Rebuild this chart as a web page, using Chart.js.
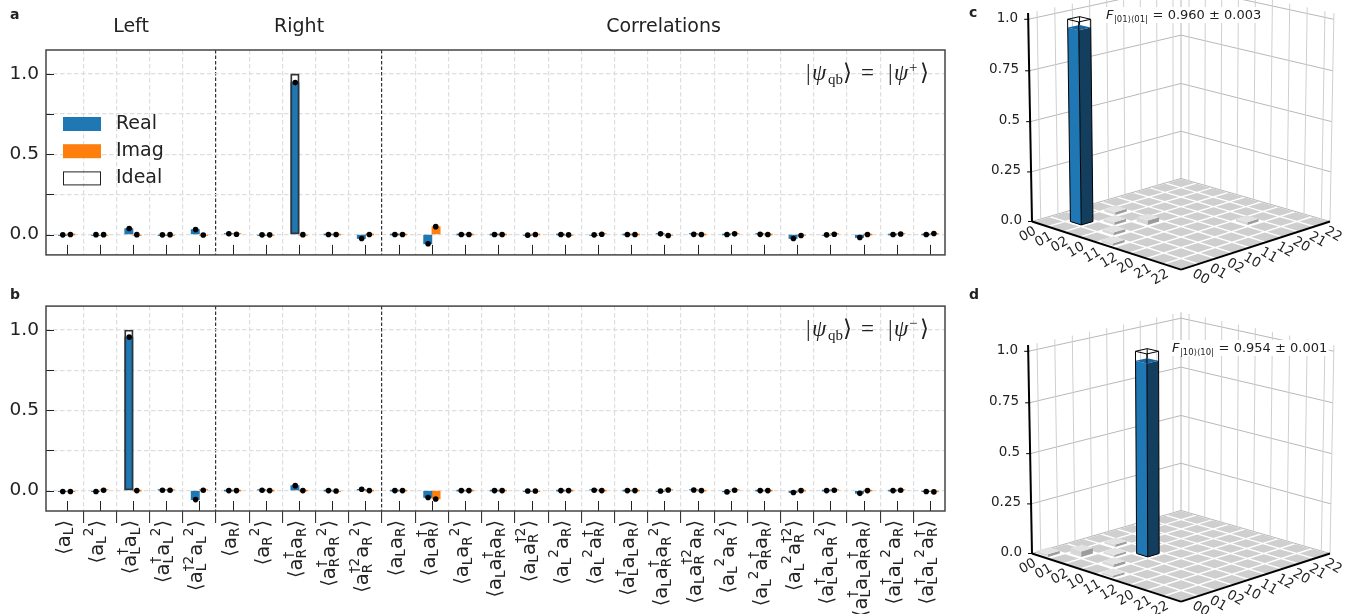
<!DOCTYPE html>
<html>
<head>
<meta charset="utf-8">
<title>Two-qubit moments and fidelity</title>
<script src="https://cdn.jsdelivr.net/npm/chart.js@4"></script>
<style>
    body { margin: 0; background: #fff; width: 1348px; height: 614px; overflow: hidden; position: relative; }
    canvas { position: absolute; }
</style>
</head>
<body>
<canvas id="panelA" width="960" height="273" style="left:0;top:0"></canvas>
<canvas id="panelB" width="960" height="326" style="left:0;top:288px"></canvas>
<canvas id="panelC" width="388" height="292" style="left:960px;top:0"></canvas>
<canvas id="panelD" width="388" height="329" style="left:960px;top:285px"></canvas>
<script>
// labels use a small syntax: base^sup_sub stacked, a lone ^2 follows the previous token
const categories = [
    'a_L', 'a_L ^2', 'a^†_L a_L', 'a^†_L a_L ^2', 'a^†2_L a_L ^2',
    'a_R', 'a_R ^2', 'a^†_R a_R', 'a^†_R a_R ^2', 'a^†2_R a_R ^2',
    'a_L a_R', 'a_L a^†_R', 'a_L a_R ^2', 'a_L a^†_R a_R', 'a_L a^†2_R',
    'a_L ^2 a_R', 'a_L ^2 a^†_R', 'a^†_L a_L a_R', 'a_L a^†_R a_R ^2', 'a_L a^†2_R a_R',
    'a_L ^2 a_R ^2', 'a_L ^2 a^†_R a_R', 'a_L ^2 a^†2_R', 'a^†_L a_L a_R ^2',
    'a^†_L a_L a^†_R a_R', 'a^†_L a_L ^2 a_R', 'a^†_L a_L ^2 a^†_R'
];
const groupNames = ['Left', 'Right', 'Correlations'];
const groupEdges = [-0.62, 4.5, 9.5, 26.45];
const seriesNames = ['Real', 'Imag', 'Ideal'];
const yTicks = [0, 0.25, 0.5, 0.75, 1];
const yTickLabels = ['0.0', '', '0.5', '', '1.0'];

const realA = [-0.002, -0.001, 0.037, -0.002, 0.031, 0.005, -0.002, 0.946, 0, -0.025, 0, -0.058, 0, 0, -0.004, 0, -0.002, 0, 0.004, 0.001, 0, 0.001, -0.025, -0.002, -0.019, 0, 0];
const imagA = [0, -0.001, -0.001, -0.001, -0.003, 0.002, -0.002, -0.001, 0, 0, 0, 0.049, 0, 0, 0, -0.002, 0.002, 0, -0.006, 0, 0.004, 0, -0.006, 0.002, 0, 0.003, 0.006];
const idealA = [0, 0, 0, 0, 0, 0, 0, 1, 0, 0, 0, 0, 0, 0, 0, 0, 0, 0, 0, 0, 0, 0, 0, 0, 0, 0, 0];
const realB = [-0.006, -0.006, 0.956, 0.002, -0.056, 0, 0.002, 0.031, 0, 0.008, 0, -0.043, 0, 0, -0.002, 0, 0.002, 0, -0.002, 0.004, -0.008, 0, -0.012, 0, -0.017, 0, -0.006];
const imagB = [-0.006, 0.002, 0, 0.002, 0.002, 0, 0, 0, -0.002, 0, 0, -0.052, 0, 0, -0.002, 0, 0, 0, 0.004, 0, 0.002, 0, 0, 0.002, 0, 0.002, -0.008];
const idealB = [0, 0, 1, 0, 0, 0, 0, 0, 0, 0, 0, 0, 0, 0, 0, 0, 0, 0, 0, 0, 0, 0, 0, 0, 0, 0, 0];

const basisLabels = ['00', '01', '02', '10', '11', '12', '20', '21', '22'];
const zTicks = [0, 0.25, 0.5, 0.75, 1];
const zTickLabels = ['0.0', '0.25', '0.5', '0.75', '1.0'];
const rhoC = [
    [0, 0, 0, 0, 0, 0, 0, 0, 0],
    [0, 0.96, 0, 0.014, 0, 0, 0, 0, 0],
    [0, 0, 0.014, 0, 0, 0, 0, 0, 0],
    [0, 0.014, 0, 0.022, 0, 0, 0, 0, 0],
    [0.012, 0, 0, 0, 0, 0, 0, 0, 0],
    [0, 0, 0, 0, 0, 0, 0, 0, 0],
    [0, 0, 0, 0, 0, 0, 0.014, 0, 0],
    [0, 0, 0, 0, 0, 0, 0, 0, 0],
    [0, 0, 0, 0, 0, 0, 0, 0, 0]
];
const rhoD = [
    [0.014, 0, 0, 0, 0, 0, 0, 0, 0],
    [0, 0.028, 0, 0.012, 0, 0, 0, 0, 0],
    [0, 0, 0.01, 0, 0, 0, 0, 0, 0],
    [0, 0.014, 0, 0.954, 0, 0, 0, 0, 0],
    [0.01, 0, 0, 0, 0, 0, 0, 0, 0],
    [0, 0, 0, 0, 0, 0, 0, 0, 0],
    [0, 0, 0, 0, 0, 0, 0, 0, 0],
    [0, 0, 0, 0, 0, 0, 0, 0, 0],
    [0, 0, 0, 0, 0, 0, 0, 0, 0]
];

const SANS = '"DejaVu Sans"';
const BLUE = '#1f77b4';
const ORANGE = '#ff7f0e';

Chart.defaults.animation = false;
Chart.defaults.font.family = SANS;

function setFont(ctx, size, style) {
    ctx.font = (style ? style + ' ' : '') + size + 'px ' + SANS;
}

// turns one label string into positioned text runs
function layoutLabel(ctx, label, size) {
    const small = size * 0.7;
    const runs = [];
    let x = 0;
    const put = (text, s, dy, advance) => {
        setFont(ctx, s);
        runs.push({ text, s, x, dy });
        const w = ctx.measureText(text).width;
        if (advance) x += w;
        return w;
    };
    put('⟨', size, 0, true);
    label.split(' ').forEach(token => {
        const m = token.match(/^(a?)(?:\^([^_]+))?(?:_(.+))?$/);
        if (m[1]) put(m[1], size, 0, true);
        const sup = m[2] ? put(m[2], small, -size * 0.48, false) : 0;
        const sub = m[3] ? put(m[3], small, size * 0.18, false) : 0;
        x += Math.max(sup, sub);
    });
    put('⟩', size, 0, true);
    return { runs, width: x };
}

function drawRuns(ctx, runs) {
    runs.forEach(r => {
        setFont(ctx, r.s, r.style);
        if (r.family) ctx.font = (r.style ? r.style + ' ' : '') + r.s + 'px ' + r.family;
        ctx.fillText(r.text, r.x, r.dy);
    });
}

const barPanelPlugin = {
    id: 'barPanel',
    afterDatasetsDraw(chart, args, opts) {
        const ctx = chart.ctx;
        const { left, right, top, bottom } = chart.chartArea;
        const x = chart.scales.x;
        const y = chart.scales.y;
        ctx.save();
        ctx.strokeStyle = '#222';
        ctx.lineWidth = 1;
        ctx.beginPath();
        categories.forEach((c, i) => {
            const px = Math.round(x.getPixelForValue(i)) + 0.5;
            ctx.moveTo(px, bottom);
            ctx.lineTo(px, bottom - 10);
        });
        yTicks.forEach(v => {
            const py = Math.round(y.getPixelForValue(v)) + 0.5;
            ctx.moveTo(left, py);
            ctx.lineTo(left + 8, py);
        });
        ctx.stroke();
        ctx.strokeStyle = '#444';
        ctx.lineWidth = 1.5;
        ctx.strokeRect(left, top, right - left, bottom - top);

        ctx.fillStyle = '#222';
        ctx.textBaseline = 'middle';
        setFont(ctx, 14, 'bold');
        ctx.textAlign = 'left';
        ctx.fillText(opts.letter, 10, opts.letterY);
        ctx.textBaseline = 'alphabetic';

        if (opts.showGroups) {
            setFont(ctx, 19);
            ctx.textAlign = 'center';
            ctx.textBaseline = 'middle';
            groupNames.forEach((name, i) => {
                const mid = (groupEdges[i] + groupEdges[i + 1]) / 2;
                ctx.fillText(name, x.getPixelForValue(mid), 27);
            });
            // legend
            ctx.textAlign = 'left';
            [BLUE, ORANGE, null].forEach((color, i) => {
                const cy = 124 + i * 27.2;
                if (color) {
                    ctx.fillStyle = color;
                    ctx.fillRect(63, cy - 7, 38, 14);
                } else {
                    ctx.strokeStyle = '#222';
                    ctx.lineWidth = 1;
                    ctx.strokeRect(63.5, cy - 6.5, 37, 13);
                }
                ctx.fillStyle = '#222';
                ctx.fillText(seriesNames[i], 116, cy);
            });
            ctx.textBaseline = 'alphabetic';
        }

        // state label in the upper right corner
        const serif = '"Liberation Serif"';
        ctx.save();
        ctx.textAlign = 'left';
        ctx.fillStyle = '#222';
        ctx.translate(806, y.getPixelForValue(1) + 6);
        const parts = [['|', 23, 0, '', 0], ['ψ', 23, 0, 'italic', 6], ['qb', 15, 4, '', 22], ['⟩', 23, 0, '', 37],
            ['=', 23, 0, '', 55], ['|', 23, 0, '', 82], ['ψ', 23, 0, 'italic', 88], [opts.sign, 15, -8, '', 103], ['⟩', 23, 0, '', 114]];
        drawRuns(ctx, parts.map(p => ({ text: p[0], s: p[1], dy: p[2], style: p[3], x: p[4], family: serif })));
        ctx.restore();

        if (opts.showLabels) {
            ctx.fillStyle = '#222';
            categories.forEach((label, i) => {
                const layout = layoutLabel(ctx, label, 19.5);
                ctx.save();
                ctx.translate(x.getPixelForValue(i) + 3, bottom + 9);
                ctx.rotate(-Math.PI / 2);
                ctx.translate(-layout.width, 0);
                drawRuns(ctx, layout.runs);
                ctx.restore();
            });
        }
        ctx.restore();
    }
};

function makeBarChart(id, real, imag, ideal, cfg) {
    const toPoints = (values, shift) => values.map((v, i) => ({ x: i + shift, y: v }));
    return new Chart(document.getElementById(id), {
        type: 'bar',
        data: {
            datasets: [
                {
                    type: 'scatter',
                    label: 'measured',
                    data: toPoints(real, -0.115).concat(toPoints(imag, 0.115)),
                    backgroundColor: '#000',
                    borderWidth: 0,
                    pointRadius: 2.8,
                    order: 0
                },
                {
                    label: seriesNames[2],
                    data: toPoints(ideal, -0.125).filter(p => p.y > 0),
                    backgroundColor: 'rgba(0,0,0,0)',
                    borderColor: '#333',
                    borderWidth: 1.2,
                    borderSkipped: false,
                    barThickness: 8.6,
                    grouped: false,
                    order: 1
                },
                {
                    label: seriesNames[0],
                    data: toPoints(real, -0.125),
                    backgroundColor: BLUE,
                    barThickness: 8.3,
                    minBarLength: 1,
                    grouped: false,
                    order: 2
                },
                {
                    label: seriesNames[1],
                    data: toPoints(imag, 0.125),
                    backgroundColor: ORANGE,
                    barThickness: 8.3,
                    minBarLength: 1,
                    grouped: false,
                    order: 3
                }
            ]
        },
        options: {
            responsive: false,
            layout: { padding: { top: cfg.paddingTop, right: 15 } },
            plugins: {
                legend: { display: false },
                tooltip: { enabled: false },
                barPanel: cfg
            },
            scales: {
                x: {
                    type: 'linear',
                    min: groupEdges[0],
                    max: groupEdges[3],
                    offset: false,
                    afterBuildTicks: scale => {
                        scale.ticks = categories.slice(1).map((c, i) => ({ value: i + 0.5 }));
                    },
                    afterFit: scale => { scale.height = cfg.axisHeight; },
                    ticks: { display: false, autoSkip: false },
                    border: {
                        display: false,
                        dash: ctx => isSeparator(ctx) ? [3.5, 2] : [4.5, 2.5]
                    },
                    grid: {
                        offset: false,
                        color: ctx => isSeparator(ctx) ? '#333' : '#dedede',
                        lineWidth: 1.2,
                        drawTicks: cfg.showLabels,
                        tickLength: 12,
                        tickColor: '#222',
                        tickWidth: 1
                    }
                },
                y: {
                    min: -0.127,
                    max: 1.149,
                    afterBuildTicks: scale => {
                        scale.ticks = yTicks.map(v => ({ value: v }));
                    },
                    afterFit: scale => { scale.width = 46; },
                    ticks: {
                        autoSkip: false,
                        padding: 7,
                        color: '#222',
                        font: { size: 18.5 },
                        callback: v => yTickLabels[yTicks.indexOf(v)]
                    },
                    border: { display: false, dash: [4.5, 2.5] },
                    grid: { color: '#dedede', lineWidth: 1.2, drawTicks: false }
                }
            }
        },
        plugins: [barPanelPlugin]
    });
}

function isSeparator(ctx) {
    return ctx.tick && (ctx.tick.value === 4.5 || ctx.tick.value === 9.5);
}

makeBarChart('panelA', realA, imagA, idealA, {
    letter: 'a', letterY: 15, sign: '+', showGroups: true, showLabels: false, paddingTop: 50, axisHeight: 15
});
makeBarChart('panelB', realB, imagB, idealB, {
    letter: 'b', letterY: 7, sign: '−', showGroups: false, showLabels: true, paddingTop: 18, axisHeight: 103
});

// 3D view: perspective camera fitted to the figure, floor coords a,b in 0..1
const view = { s: 149, sinE: 0.305, cosE: 0.952, h: 1.39, d: 17, cx: 221 };

function project(a, b, z, cy) {
    const p = a + b - 1;
    const q = b - a;
    const zh = z * view.h;
    const w = 1 + (q * view.cosE - zh * view.sinE) / view.d;
    return {
        x: view.cx + view.s * p / w,
        y: cy - view.s * (q * view.sinE + zh * view.cosE) / w
    };
}

function make3dChart(id, rho, cfg) {
    const n = basisLabels.length;
    const cy = cfg.cy;
    const P = (a, b, z) => project(a, b, z, cy);
    const list = [];
    const line = (pts, color, width) => list.push({
        data: pts, showLine: true, borderColor: color, borderWidth: width, pointRadius: 0, fill: false, tension: 0
    });
    const face = (pts, color) => list.push({
        data: pts.concat([pts[0]]), showLine: true, borderWidth: 0, pointRadius: 0,
        backgroundColor: color, fill: 'shape', tension: 0
    });

    // walls
    const wallTop = 1.03;
    zTicks.forEach(z => {
        line([P(0, 0, z), P(0, 1, z)], '#b8b8b8', 1);
        line([P(0, 1, z), P(1, 1, z)], '#b8b8b8', 1);
    });
    basisLabels.forEach((t, i) => {
        const u = (i + 0.5) / n;
        line([P(0, u, 0), P(0, u, wallTop)], '#cfcfcf', 1);
        line([P(u, 1, 0), P(u, 1, wallTop)], '#cfcfcf', 1);
    });
    line([P(0, 1, 0), P(0, 1, wallTop)], '#b8b8b8', 1);
    line([P(1, 1, 0), P(1, 1, wallTop)], '#cfcfcf', 1);

    // bars, back to front
    const cells = [];
    rho.forEach((row, i) => row.forEach((v, j) => cells.push({ i, j, v })));
    cells.sort((m, k) => (k.j - k.i) - (m.j - m.i));
    cells.forEach(c => {
        const z = c.v;
        const isPeak = z > 0.5;
        const inset = (z > 0 ? 0.16 : 0.07) / n;
        const a0 = c.i / n + inset, a1 = (c.i + 1) / n - inset;
        const b0 = c.j / n + inset, b1 = (c.j + 1) / n - inset;
        const top = [P(a0, b0, z), P(a1, b0, z), P(a1, b1, z), P(a0, b1, z)];
        if (z > 0) {
            face([P(a0, b0, 0), P(a1, b0, 0), P(a1, b0, z), P(a0, b0, z)], isPeak ? BLUE : '#d8d8d8');
            face([P(a1, b0, 0), P(a1, b1, 0), P(a1, b1, z), P(a1, b0, z)], isPeak ? '#143e5e' : '#9c9c9c');
        }
        face(top, isPeak ? '#1a65a0' : (z > 0 ? '#e2e2e2' : '#cfcfcf'));
        if (isPeak) {
            // outline of the measured bar, then the ideal wire box at 1.0
            line([P(a0, b0, 1), P(a0, b0, 0), P(a1, b0, 0), P(a1, b1, 0), P(a1, b1, 1)], '#000', 1);
            line([P(a1, b0, 0), P(a1, b0, 1)], '#000', 1);
            line([P(a0, b1, z), P(a0, b1, 1)], '#000', 1);
            line([P(a0, b0, 1), P(a1, b0, 1), P(a1, b1, 1), P(a0, b1, 1), P(a0, b0, 1)], '#000', 1);
        }
    });

    // axes
    line([P(0, 0, 0), P(1, 0, 0)], '#000', 2);
    line([P(1, 0, 0), P(1, 1, 0)], '#000', 2);
    line([P(0, 0, 0), P(0, 0, wallTop)], '#000', 2);

    const labelsPlugin = {
        id: 'labels3d',
        afterDatasetsDraw(chart) {
            const ctx = chart.ctx;
            const sx = chart.scales.x;
            const sy = chart.scales.y;
            const px = pt => ({ x: sx.getPixelForValue(pt.x), y: sy.getPixelForValue(pt.y) });
            ctx.save();
            ctx.fillStyle = '#222';
            setFont(ctx, 13.5);
            ctx.textBaseline = 'middle';
            ctx.textAlign = 'right';
            zTicks.forEach((z, i) => {
                const t = px(P(0, 0, z));
                ctx.strokeStyle = '#000';
                ctx.lineWidth = 1;
                ctx.beginPath();
                ctx.moveTo(t.x - 4, t.y);
                ctx.lineTo(t.x + 1, t.y);
                ctx.stroke();
                ctx.fillText(zTickLabels[i], t.x - 10, t.y - 1);
            });
            ctx.textAlign = 'center';
            basisLabels.forEach((label, i) => {
                const u = (i + 0.5) / n;
                [[px(P(u, 0, 0)), -12, 10.5, -Math.PI / 6], [px(P(1, u, 0)), 11, 10.5, Math.PI / 6]].forEach(item => {
                    ctx.save();
                    ctx.translate(item[0].x + item[1], item[0].y + item[2]);
                    ctx.rotate(item[3]);
                    ctx.fillText(label, 0, 0);
                    ctx.restore();
                });
            });

            // fidelity text on a white box
            ctx.textAlign = 'left';
            ctx.textBaseline = 'alphabetic';
            const runs = [];
            let tx = 0;
            [['F', 13, 0, 'italic'], [cfg.subscript, 8.5, 3, ''], [' ' + cfg.fidelity, 13, 0, '']].forEach(p => {
                setFont(ctx, p[1], p[3]);
                runs.push({ text: p[0], s: p[1], x: tx, dy: p[2], style: p[3] });
                tx += ctx.measureText(p[0]).width + 0.5;
            });
            ctx.fillStyle = '#fff';
            ctx.fillRect(cfg.textX - 1, cfg.textY - 12, tx + 2, 16);
            ctx.fillStyle = '#222';
            ctx.translate(cfg.textX, cfg.textY);
            drawRuns(ctx, runs);
            ctx.translate(-cfg.textX, -cfg.textY);

            setFont(ctx, 14, 'bold');
            ctx.textBaseline = 'middle';
            ctx.fillText(cfg.letter, 9, cfg.letterY);
            ctx.restore();
        }
    };

    return new Chart(document.getElementById(id), {
        type: 'scatter',
        // first dataset is painted last, so flip the back to front list
        data: { datasets: list.reverse() },
        options: {
            responsive: false,
            plugins: { legend: { display: false }, tooltip: { enabled: false } },
            scales: {
                x: { display: false, min: 0, max: 388 },
                y: { display: false, min: 0, max: cfg.height, reverse: true }
            }
        },
        plugins: [labelsPlugin]
    });
}

make3dChart('panelC', rhoC, {
    cy: 221.5, height: 292, letter: 'c', letterY: 13, subscript: '|01⟩⟨01|',
    fidelity: '= 0.960 ± 0.003', textX: 146, textY: 19
});
make3dChart('panelD', rhoD, {
    cy: 268.5, height: 329, letter: 'd', letterY: 10, subscript: '|10⟩⟨10|',
    fidelity: '= 0.954 ± 0.001', textX: 212, textY: 67
});
</script>
</body>
</html>
